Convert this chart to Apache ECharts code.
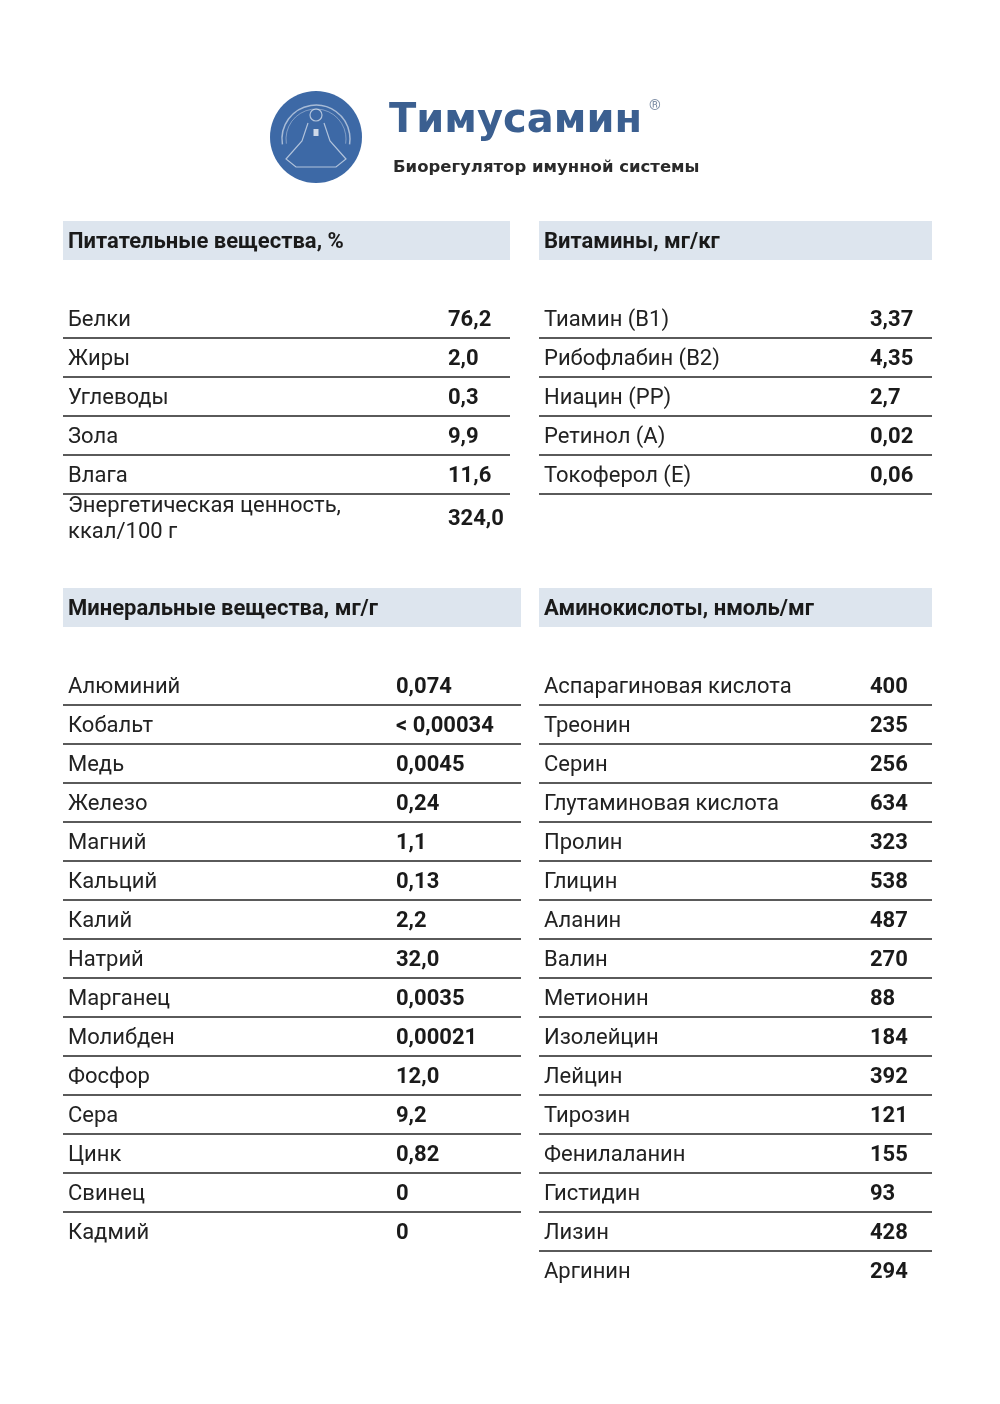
<!DOCTYPE html>
<html>
<head>
<meta charset="utf-8">
<script src="https://cdn.jsdelivr.net/npm/echarts@6/dist/echarts.min.js"></script>
<style>
  html, body { margin: 0; padding: 0; background: #fff; }
  #main { width: 1000px; height: 1404px; }
</style>
</head>
<body>
<div id="main"></div>
<script>
// данные таблиц
const nutrientNames = ['Белки', 'Жиры', 'Углеводы', 'Зола', 'Влага', 'Энергетическая ценность,\nккал/100 г'];
const nutrientValues = ['76,2', '2,0', '0,3', '9,9', '11,6', '324,0'];

const vitaminNames = ['Тиамин (B1)', 'Рибофлабин (B2)', 'Ниацин (PP)', 'Ретинол (А)', 'Токоферол (Е)'];
const vitaminValues = ['3,37', '4,35', '2,7', '0,02', '0,06'];

const mineralNames = ['Алюминий', 'Кобальт', 'Медь', 'Железо', 'Магний', 'Кальций', 'Калий', 'Натрий',
  'Марганец', 'Молибден', 'Фосфор', 'Сера', 'Цинк', 'Свинец', 'Кадмий'];
const mineralValues = ['0,074', '< 0,00034', '0,0045', '0,24', '1,1', '0,13', '2,2', '32,0',
  '0,0035', '0,00021', '12,0', '9,2', '0,82', '0', '0'];

const aminoNames = ['Аспарагиновая кислота', 'Треонин', 'Серин', 'Глутаминовая кислота', 'Пролин', 'Глицин',
  'Аланин', 'Валин', 'Метионин', 'Изолейцин', 'Лейцин', 'Тирозин', 'Фенилаланин', 'Гистидин', 'Лизин', 'Аргинин'];
const aminoValues = ['400', '235', '256', '634', '323', '538', '487', '270', '88', '184', '392', '121', '155', '93', '428', '294'];

const tableTitles = ['Питательные вещества, %', 'Витамины, мг/кг', 'Минеральные вещества, мг/г', 'Аминокислоты, нмоль/мг'];

const FONT = 'Roboto, "Noto Sans", sans-serif';
const ROW_H = 39;

// строит шапку, строки и разделители одной таблицы
function buildTable(title, names, values, box) {
  const els = [];
  els.push({
    type: 'rect',
    shape: { x: box.left, y: box.top, width: box.width, height: 39 },
    style: { fill: '#dde5ee' }
  });
  els.push({
    type: 'text',
    style: {
      text: title, x: box.left + 5, y: box.top + 21,
      font: 'bold 22px ' + FONT, fill: '#1a1a1a',
      align: 'left', verticalAlign: 'middle'
    }
  });
  const firstY = box.top + 99;
  names.forEach((name, i) => {
    const multi = name.indexOf('\n') >= 0;
    const y = firstY + i * ROW_H + (multi ? 4 : 0);
    els.push({
      type: 'text',
      style: {
        text: name, x: box.left + 5, y: y,
        font: '22px ' + FONT, fill: '#222', lineHeight: 26,
        align: 'left', verticalAlign: 'middle'
      }
    });
    els.push({
      type: 'text',
      style: {
        text: values[i], x: box.valueX, y: y,
        font: 'bold 22px ' + FONT, fill: '#1a1a1a',
        align: 'left', verticalAlign: 'middle'
      }
    });
    if (i < names.length - 1 || box.lastLine) {
      const ly = box.top + 98 + i * ROW_H + 19;
      els.push({
        type: 'line',
        shape: { x1: box.left, y1: ly, x2: box.left + box.lineWidth, y2: ly },
        style: { stroke: '#5a5a5a', lineWidth: 2 }
      });
    }
  });
  return els;
}

function buildLogo() {
  const cx = 316, cy = 137, r = 46;
  const els = [
    { type: 'circle', shape: { cx: cx, cy: cy, r: r }, style: { fill: '#3d69a6' } },
    { type: 'arc', shape: { cx: cx, cy: cy + 2, r: 34, startAngle: Math.PI * 0.95, endAngle: Math.PI * 2.05 },
      style: { stroke: 'rgba(255,255,255,0.55)', lineWidth: 1.5, fill: 'none' } },
    { type: 'arc', shape: { cx: cx, cy: cy + 2, r: 30, startAngle: Math.PI * 0.95, endAngle: Math.PI * 2.05 },
      style: { stroke: 'rgba(255,255,255,0.35)', lineWidth: 1, fill: 'none' } },
    // фигура
    { type: 'circle', shape: { cx: cx, cy: cy - 22, r: 6 }, style: { fill: 'none', stroke: 'rgba(255,255,255,0.6)', lineWidth: 1.2 } },
    { type: 'polyline', shape: { points: [[cx - 8, cy - 14], [cx - 14, cy + 4], [cx - 30, cy + 22], [cx - 20, cy + 30], [cx + 20, cy + 30], [cx + 30, cy + 22], [cx + 14, cy + 4], [cx + 8, cy - 14]] },
      style: { stroke: 'rgba(255,255,255,0.6)', lineWidth: 1.2, fill: 'none' } },
    { type: 'rect', shape: { x: cx - 2.5, y: cy - 8, width: 5, height: 7 }, style: { fill: 'rgba(255,255,255,0.75)' } }
  ];
  els.push({
    type: 'text',
    style: { text: 'Тимусамин', x: 389, y: 122, font: 'bold 40px "DejaVu Sans", sans-serif', fill: '#3b5f90', align: 'left', verticalAlign: 'middle' }
  });
  els.push({
    type: 'text',
    style: { text: '®', x: 649, y: 106, font: '15px ' + FONT, fill: '#7f8fa6', align: 'left', verticalAlign: 'middle' }
  });
  els.push({
    type: 'text',
    style: { text: 'Биорегулятор имунной системы', x: 393, y: 168, font: 'bold 16.5px "DejaVu Sans", sans-serif', fill: '#2a2a2a', align: 'left', verticalAlign: 'middle' }
  });
  return els;
}

const chart = echarts.init(document.getElementById('main'), null, { renderer: 'canvas' });

const elements = [].concat(
  buildLogo(),
  buildTable(tableTitles[0], nutrientNames, nutrientValues, { left: 63, top: 221, width: 447, lineWidth: 447, valueX: 448, lastLine: false }),
  buildTable(tableTitles[1], vitaminNames, vitaminValues, { left: 539, top: 221, width: 393, lineWidth: 393, valueX: 870, lastLine: true }),
  buildTable(tableTitles[2], mineralNames, mineralValues, { left: 63, top: 588, width: 458, lineWidth: 458, valueX: 396, lastLine: false }),
  buildTable(tableTitles[3], aminoNames, aminoValues, { left: 539, top: 588, width: 393, lineWidth: 393, valueX: 870, lastLine: false })
);

chart.setOption({
  backgroundColor: '#fff',
  animation: false,
  graphic: { elements: elements }
});
</script>
</body>
</html>
